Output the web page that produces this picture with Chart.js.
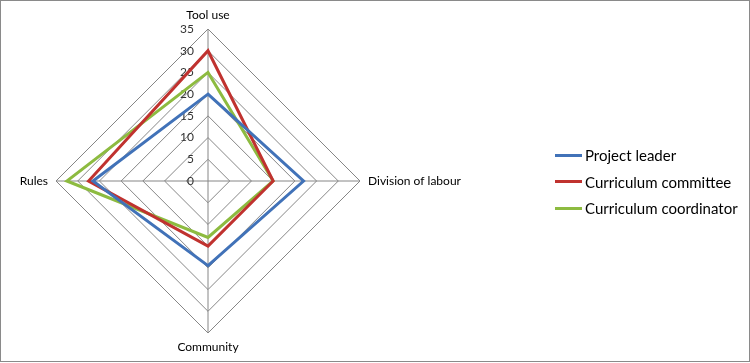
<!DOCTYPE html>
<html>
<head>
<meta charset="utf-8">
<script src="https://cdn.jsdelivr.net/npm/chart.js@4"></script>
<style>
    body { margin: 0; background: #fff; font-family: Lato, "Open Sans", sans-serif; }
    #wrap { position: relative; width: 750px; height: 363px; }
    #frame { position: absolute; left: 0; top: 0; width: 750px; height: 362px; box-sizing: border-box; border: 1px solid #8a8a8a; pointer-events: none; }
    #legend { position: absolute; left: 555px; top: 142px; font-size: 15px; color: #000; }
    .item { height: 26.5px; display: flex; align-items: center; white-space: nowrap; }
    .swatch { width: 27px; height: 3px; margin-right: 3px; }
</style>
</head>
<body>
<div id="wrap">
    <canvas id="radar"></canvas>
    <div id="legend"></div>
    <div id="frame"></div>
</div>
<script>
const axes = ['Tool use', 'Division of labour', 'Community', 'Rules'];
const seriesNames = ['Project leader', 'Curriculum committee', 'Curriculum coordinator'];
const projectLeader = [20, 22, 19.5, 26.5];
const curriculumCommittee = [30, 15, 15, 27.5];
const curriculumCoordinator = [25, 15, 13, 32.5];
const tickValues = [0, 5, 10, 15, 20, 25, 30, 35];

const colours = ['#4172B8', '#C0322F', '#8DBB40'];
const seriesValues = [projectLeader, curriculumCommittee, curriculumCoordinator];

// tick labels sit left of the vertical axis, drawn under the lines
const tickLabelsPlugin = {
    id: 'tickLabels',
    beforeDatasetsDraw(chart) {
        const r = chart.scales.r;
        const ctx = chart.ctx;
        ctx.save();
        ctx.font = '12px Lato, "Open Sans", sans-serif';
        ctx.fillStyle = '#333';
        ctx.textAlign = 'right';
        ctx.textBaseline = 'middle';
        tickValues.forEach(v => {
            const d = r.getDistanceFromCenterForValue(v);
            ctx.fillText(String(v), r.xCenter - 14, r.yCenter - d);
        });
        ctx.restore();
    }
};

// axis names placed just outside the outer ring
const axisNamesPlugin = {
    id: 'axisNames',
    afterDraw(chart) {
        const r = chart.scales.r;
        const ctx = chart.ctx;
        ctx.save();
        ctx.font = '12px Lato, "Open Sans", sans-serif';
        ctx.fillStyle = '#000';
        axes.forEach((name, i) => {
            const p = r.getPointPosition(i, r.drawingArea + 8);
            if (i === 0) { ctx.textAlign = 'center'; ctx.textBaseline = 'bottom'; }
            else if (i === 1) { ctx.textAlign = 'left'; ctx.textBaseline = 'middle'; }
            else if (i === 2) { ctx.textAlign = 'center'; ctx.textBaseline = 'top'; }
            else { ctx.textAlign = 'right'; ctx.textBaseline = 'middle'; }
            ctx.fillText(name, p.x, p.y);
        });
        ctx.restore();
    }
};

new Chart('radar', {
    type: 'radar',
    data: {
        labels: axes,
        datasets: seriesNames.map((name, i) => ({
            label: name,
            data: seriesValues[i],
            borderColor: colours[i],
            backgroundColor: colours[i],
            borderWidth: 3,
            borderJoinStyle: 'miter',
            fill: false,
            pointRadius: 0,
            pointHoverRadius: 0
        }))
    },
    options: {
        responsive: true,
        maintainAspectRatio: false,
        animation: false,
        layout: { padding: { left: 56, top: 29, right: 390, bottom: 30 } },
        plugins: {
            legend: { display: false },
            tooltip: { enabled: false }
        },
        scales: {
            r: {
                min: 0,
                max: 35,
                ticks: { stepSize: 5, display: false },
                pointLabels: { display: false },
                grid: { color: '#868686', lineWidth: 1 },
                angleLines: { color: '#868686', lineWidth: 1 }
            }
        }
    },
    plugins: [tickLabelsPlugin, axisNamesPlugin]
});

const legend = document.getElementById('legend');
seriesNames.forEach((name, i) => {
    legend.innerHTML += `<div class="item"><span class="swatch" style="background:${colours[i]}"></span>${name}</div>`;
});
</script>
</body>
</html>
